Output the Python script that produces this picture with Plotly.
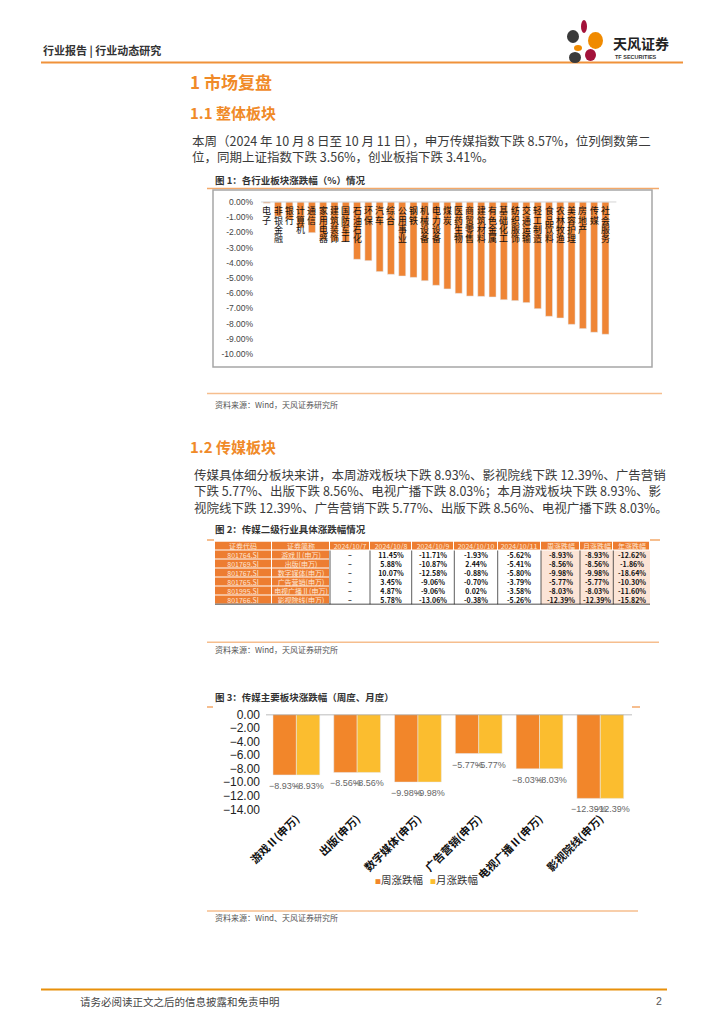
import plotly.graph_objects as go

# page is placed with an 8px body margin, so the figure is drawn 8px smaller and shifted
OFF = 8
W, H = 724 - OFF, 1024 - OFF
def X(px): return (px - OFF) / W
def Y(py): return 1 - (py - OFF) / H

CJK = "Noto Sans CJK SC"
ARIAL = "Liberation Sans"

# ---------------- data ----------------
industries = ["电子", "非银金融", "银行", "计算机", "通信", "家用电器", "建筑装饰", "国防军工",
              "石油石化", "环保", "汽车", "综合", "公用事业", "钢铁", "机械设备", "电力设备",
              "煤炭", "医药生物", "商贸零售", "建筑材料", "有色金属", "基础化工", "纺织服饰",
              "交通运输", "轻工制造", "食品饮料", "农林牧渔", "美容护理", "房地产", "传媒", "社会服务"]
industry_chg = [-0.08, -0.95, -1.15, -1.70, -2.02, -2.50, -2.58, -2.62, -3.77, -3.86, -4.58,
                -4.76, -4.87, -4.96, -5.18, -5.48, -5.72, -6.01, -6.19, -6.21, -6.25, -6.43,
                -6.49, -6.62, -7.02, -7.52, -7.63, -8.05, -8.33, -8.57, -8.70]
fig1_ticks = [0, -1, -2, -3, -4, -5, -6, -7, -8, -9, -10]

tbl_header = ["证券代码", "证券简称", "2024/10/7", "2024/10/8", "2024/10/9", "2024/10/10",
              "2024/10/11", "周涨跌幅", "月涨跌幅", "年涨跌幅"]
sec_codes = ["801764.SI", "801769.SI", "801767.SI", "801765.SI", "801995.SI", "801766.SI"]
sec_names = ["游戏Ⅱ(申万)", "出版(申万)", "数字媒体(申万)", "广告营销(申万)", "电视广播Ⅱ(申万)", "影视院线(申万)"]
chg_1007 = ["–", "–", "–", "–", "–", "–"]
chg_1008 = [11.45, 5.88, 10.07, 3.45, 4.87, 5.78]
chg_1009 = [-11.71, -10.87, -12.58, -9.06, -9.06, -13.06]
chg_1010 = [-1.93, 2.44, -0.88, -0.70, 0.02, -0.38]
chg_1011 = [-5.62, -5.41, -5.80, -3.79, -3.58, -5.26]
chg_week = [-8.93, -8.56, -9.98, -5.77, -8.03, -12.39]
chg_month = [-8.93, -8.56, -9.98, -5.77, -8.03, -12.39]
chg_year = [-12.62, -1.86, -18.64, -10.30, -11.60, -15.82]

media_sectors = ["游戏Ⅱ(申万)", "出版(申万)", "数字媒体(申万)", "广告营销(申万)", "电视广播Ⅱ(申万)", "影视院线(申万)"]
fig3_ticks = [0, -2, -4, -6, -8, -10, -12, -14]

ORANGE = "#EF8535"
ORANGE3 = "#F2862A"
YELLOW3 = "#FBBD2F"
HEAD = "#F08A28"
TBL_OR = "#ED7D31"
TBL_PEACH = "#FCE4D6"

fig = go.Figure()
annotations = []

# ---------------- Figure 1: industry bars ----------------
fig.add_trace(go.Bar(x=industries, y=industry_chg, marker_color=ORANGE, width=0.62,
                     xaxis="x", yaxis="y", showlegend=False))

# ---------------- Figure 3: media bars ----------------
def fmt_minus(v):
    return f"{v:.2f}%".replace("-", "−")

for side, (name, vals, col) in zip([-1, 1], [("周涨跌幅", chg_week, ORANGE3),
                                             ("月涨跌幅", chg_month, YELLOW3)]):
    fig.add_trace(go.Bar(x=media_sectors, y=vals, name=name, marker_color=col,
                         xaxis="x2", yaxis="y2", showlegend=False))
    for cat, v in zip(media_sectors, vals):
        annotations.append(dict(text=fmt_minus(v), xref="x2", yref="y2", x=cat, y=v,
                                xshift=side * 11.7, yshift=-11, yanchor="middle",
                                showarrow=False,
                                font=dict(size=9, color="#666", family=ARIAL)))

# ---------------- Figure 2: table drawn as heatmap cells ----------------
def pct(vals):
    return [f"{v:.2f}%" for v in vals]

columns = [sec_codes, sec_names, chg_1007, pct(chg_1008), pct(chg_1009), pct(chg_1010),
           pct(chg_1011), pct(chg_week), pct(chg_month), pct(chg_year)]
n_rows = len(sec_codes) + 1
text_grid = [tbl_header] + [[col[r] for col in columns] for r in range(len(sec_codes))]

col_w = [56.7, 58.3, 40, 41.7, 42.6, 43.4, 43.3, 39, 33.3, 36.7]
edges = [0]
for w in col_w:
    edges.append(edges[-1] + w)
row_ids = list(range(n_rows))

z_or, z_lt, t_or, t_lt = [], [], [], []
for r in range(n_rows):
    zo, zl, to, tl = [], [], [], []
    for c in range(len(col_w)):
        is_or = (r == 0) or (c < 2)
        zo.append(1 if is_or else None)
        zl.append(None if is_or else (1 if c >= 7 else 0))
        to.append(text_grid[r][c] if is_or else "")
        tl.append("" if is_or else text_grid[r][c])
    z_or.append(zo); z_lt.append(zl); t_or.append(to); t_lt.append(tl)

fig.add_trace(go.Heatmap(x=edges, y=row_ids, z=z_lt, text=t_lt, texttemplate="%{text}",
                         colorscale=[[0, "white"], [1, TBL_PEACH]], zmin=0, zmax=1,
                         showscale=False, hoverinfo="skip", xgap=0, ygap=0,
                         textfont=dict(size=7, color="#111", family=CJK, weight="bold"),
                         xaxis="x3", yaxis="y3"))
fig.add_trace(go.Heatmap(x=edges, y=row_ids, z=z_or, text=t_or, texttemplate="%{text}",
                         colorscale=[[0, TBL_OR], [1, TBL_OR]], zmin=0, zmax=1,
                         showscale=False, hoverinfo="skip", xgap=1, ygap=1,
                         textfont=dict(size=7, color="#FDE6D4", family=CJK),
                         xaxis="x3", yaxis="y3"))

shapes = []
def hline(x0, x1, y, color, width):
    shapes.append(dict(type="line", xref="paper", yref="paper", x0=X(x0), x1=X(x1),
                       y0=Y(y), y1=Y(y), line=dict(color=color, width=width)))

for e in edges[2:-1]:
    shapes.append(dict(type="line", xref="x3", yref="y3", x0=e, x1=e, y0=0.5, y1=n_rows - 0.5,
                       line=dict(color="#333", width=0.8)))
shapes.append(dict(type="line", xref="x3", yref="y3", x0=edges[0], x1=edges[-1],
                   y0=n_rows - 0.5, y1=n_rows - 0.5, line=dict(color="#111", width=1.5)))

# page decorations
hline(41, 683, 62.5, "#F0923A", 2)
hline(207, 659, 188.5, "#F3A96A", 1.5)
shapes.append(dict(type="rect", xref="paper", yref="paper", x0=X(213), x1=X(652),
                   y0=Y(367), y1=Y(190), line=dict(color="#A6A6A6", width=1.5)))
shapes.append(dict(type="line", xref="x domain", yref="y", x0=0, x1=1.015, y0=0, y1=0,
                   line=dict(color="#D4D4D4", width=1)))
hline(207, 662, 393.5, "#F6BE8E", 1.5)
hline(207, 214, 540, "#F3A96A", 1.5)
hline(650, 660, 540, "#F3A96A", 1.5)
hline(207, 659, 642.3, "#F6BE8E", 1.5)
hline(207, 213, 707, "#F3A96A", 1.5)
hline(632, 640, 707, "#F3A96A", 1.5)
shapes.append(dict(type="line", xref="x2 domain", yref="y2", x0=0, x1=1, y0=0, y1=0,
                   line=dict(color="#A6A6A6", width=1.5)))
hline(207, 638, 911, "#F6BE8E", 1.5)
hline(41, 667, 989.5, "#E8900A", 2)

# logo petals
for (x0, x1, y0, y1, c) in [(581, 587, 20, 33, "#A3123A"), (588, 603, 32, 49, "#F08A00"),
                            (567, 579, 30, 43, "#3A3A3A"), (574, 582, 45, 51, "#F08A00"),
                            (585, 596, 49, 61, "#A3123A"), (569, 581, 52, 63, "#3A3A3A")]:
    shapes.append(dict(type="circle", xref="paper", yref="paper", x0=X(x0), x1=X(x1),
                       y0=Y(y1), y1=Y(y0), fillcolor=c, line=dict(width=0)))

def txt(s, px, py, size, color="#333", bold=False, xanchor="left", family=CJK):
    annotations.append(dict(text=s, xref="paper", yref="paper", x=X(px), y=Y(py),
                            xanchor=xanchor, yanchor="middle", showarrow=False,
                            font=dict(size=size, color=color, family=family,
                                      weight="bold" if bold else "normal")))

txt("行业报告 | 行业动态研究", 41, 50, 11, "#333", True)
txt("天风证券", 611, 43, 14, "#222", True)
txt("TF SECURITIES", 613, 57, 5.5, "#333", True, family=ARIAL)
txt("1 市场复盘", 188, 82, 17, HEAD, True)
txt("1.1 整体板块", 188, 112, 15, HEAD, True)
txt("本周（2024 年 10 月 8 日至 10 月 11 日），申万传媒指数下跌 8.57%，位列倒数第二", 190, 140, 12.5, "#3a3a3a")
txt("位，同期上证指数下跌 3.56%，创业板指下跌 3.41%。", 190, 157, 12.5, "#3a3a3a")
txt("图 1：各行业板块涨跌幅（%）情况", 213, 180, 9.5, "#333", True)
txt("资料来源：Wind，天风证券研究所", 213, 404, 8, "#555")
txt("1.2 传媒板块", 188, 446, 15, HEAD, True)
txt("传媒具体细分板块来讲，本周游戏板块下跌 8.93%、影视院线下跌 12.39%、广告营销", 192, 474, 12.5, "#3a3a3a")
txt("下跌 5.77%、出版下跌 8.56%、电视广播下跌 8.03%；本月游戏板块下跌 8.93%、影", 192, 490.7, 12.5, "#3a3a3a")
txt("视院线下跌 12.39%、广告营销下跌 5.77%、出版下跌 8.56%、电视广播下跌 8.03%。", 192, 507.3, 12.5, "#3a3a3a")
txt("图 2：传媒二级行业具体涨跌幅情况", 213, 529, 9.5, "#333", True)
txt("资料来源：Wind，天风证券研究所", 213, 649, 8, "#555")
txt("图 3：传媒主要板块涨跌幅（周度、月度）", 213, 697, 9.5, "#333", True)
txt(f"<span style='color:{ORANGE3};font-size:6px'>■</span>周涨跌幅", 373, 879, 10.5, "#333")
txt(f"<span style='color:{YELLOW3};font-size:6px'>■</span>月涨跌幅", 428, 879, 10.5, "#333")
txt("资料来源：Wind、天风证券研究所", 213, 917, 8, "#555")
txt("请务必阅读正文之后的信息披露和免责申明", 78, 1001, 10.5, "#444")
txt("2", 664, 1001, 10.5, "#555", xanchor="right", family=ARIAL)

# vertical category labels for figure 1
for name in industries:
    for j, ch in enumerate(name):
        annotations.append(dict(text=ch, xref="x", yref="y", x=name, y=0, yanchor="middle",
                                yshift=-(9 + j * 9.3), showarrow=False,
                                font=dict(size=9, color="#111", family=CJK)))

noax = dict(showgrid=False, zeroline=False, showline=False, automargin=False)
fig.update_layout(
    width=W, height=H, margin=dict(l=0, r=0, t=0, b=0, autoexpand=False),
    paper_bgcolor="white", plot_bgcolor="rgba(0,0,0,0)",
    font=dict(family=CJK, color="#333"),
    barmode="group", bargap=0.23, bargroupgap=0,
    xaxis=dict(domain=[X(261.1), X(611.1)], anchor="y", showticklabels=False, ticks="",
               range=[-0.5, len(industries) - 0.5], **noax),
    yaxis=dict(domain=[Y(360.1), Y(195.9)], anchor="x", range=[-10.4, 0.4],
               tickvals=fig1_ticks, ticktext=[f"{v:.2f}%" for v in fig1_ticks],
               ticklabelstandoff=7, ticks="",
               tickfont=dict(size=8.5, color="#444", family=ARIAL), **noax),
    xaxis2=dict(domain=[X(266), X(632)], anchor="y2", tickangle=-45, ticks="",
                tickfont=dict(size=11, color="#111", family=CJK, weight="bold"), **noax),
    yaxis2=dict(domain=[Y(809.3), Y(714.5)], anchor="x2", range=[-14, 0],
                tickvals=fig3_ticks, tickformat=".2f", ticksuffix="%",
                ticklabelstandoff=5, ticks="",
                tickfont=dict(size=12, color="#222", family=ARIAL), **noax),
    xaxis3=dict(domain=[X(215), X(650)], anchor="y3", range=[edges[0], edges[-1]],
                showticklabels=False, ticks="", **noax),
    yaxis3=dict(domain=[Y(604.5), Y(541.5)], anchor="x3", range=[n_rows - 0.5, -0.5],
                showticklabels=False, ticks="", **noax),
    shapes=shapes, annotations=annotations,
)

fig.write_html("out.html")
